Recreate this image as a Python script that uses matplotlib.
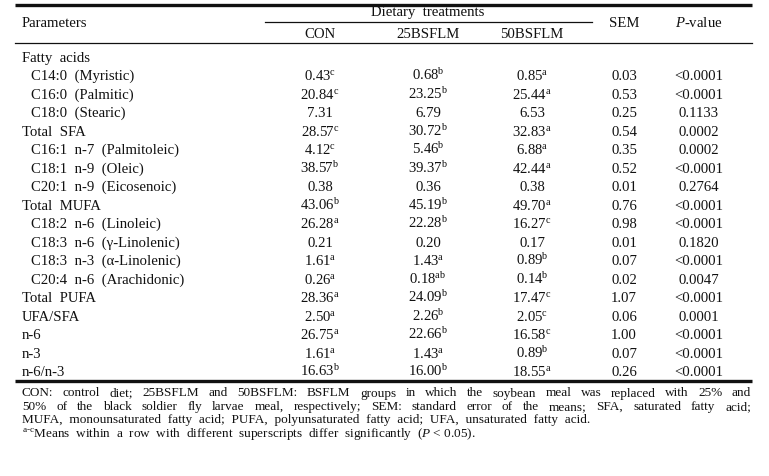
import matplotlib
matplotlib.use('Agg')
import matplotlib.pyplot as plt

# table data
params = ['Fatty acids', 'C14:0 (Myristic)', 'C16:0 (Palmitic)', 'C18:0 (Stearic)',
          'Total SFA', 'C16:1 n-7 (Palmitoleic)', 'C18:1 n-9 (Oleic)', 'C20:1 n-9 (Eicosenoic)',
          'Total MUFA', 'C18:2 n-6 (Linoleic)', 'C18:3 n-6 (γ-Linolenic)', 'C18:3 n-3 (α-Linolenic)',
          'C20:4 n-6 (Arachidonic)', 'Total PUFA', 'UFA/SFA', 'n-6', 'n-3', 'n-6/n-3']
indent = [0, 1, 1, 1, 0, 1, 1, 1, 0, 1, 1, 1, 1, 0, 0, 0, 0, 0]

con = ['', '0.43', '20.84', '7.31', '28.57', '4.12', '38.57', '0.38', '43.06', '26.28',
       '0.21', '1.61', '0.26', '28.36', '2.50', '26.75', '1.61', '16.63']
con_sup = ['', 'c', 'c', '', 'c', 'c', 'b', '', 'b', 'a', '', 'a', 'a', 'a', 'a', 'a', 'a', 'b']
b25 = ['', '0.68', '23.25', '6.79', '30.72', '5.46', '39.37', '0.36', '45.19', '22.28',
       '0.20', '1.43', '0.18', '24.09', '2.26', '22.66', '1.43', '16.00']
b25_sup = ['', 'b', 'b', '', 'b', 'b', 'b', '', 'b', 'b', '', 'a', 'ab', 'b', 'b', 'b', 'a', 'b']
b50 = ['', '0.85', '25.44', '6.53', '32.83', '6.88', '42.44', '0.38', '49.70', '16.27',
       '0.17', '0.89', '0.14', '17.47', '2.05', '16.58', '0.89', '18.55']
b50_sup = ['', 'a', 'a', '', 'a', 'a', 'a', '', 'a', 'c', '', 'b', 'b', 'c', 'c', 'c', 'b', 'a']
sem = ['', '0.03', '0.53', '0.25', '0.54', '0.35', '0.52', '0.01', '0.76', '0.98',
       '0.01', '0.07', '0.02', '1.07', '0.06', '1.00', '0.07', '0.26']
pval = ['', '<0.0001', '<0.0001', '0.1133', '0.0002', '0.0002', '<0.0001', '0.2764', '<0.0001',
        '<0.0001', '0.1820', '<0.0001', '0.0047', '<0.0001', '0.0001', '<0.0001', '<0.0001', '<0.0001']

notes = ['CON: control diet; 25BSFLM and 50BSFLM: BSFLM groups in which the soybean meal was replaced with 25% and',
         '50% of the black soldier fly larvae meal, respectively; SEM: standard error of the means; SFA, saturated fatty acid;',
         'MUFA, monounsaturated fatty acid; PUFA, polyunsaturated fatty acid; UFA, unsaturated fatty acid.']

plt.rcParams['font.family'] = ['Liberation Serif', 'DejaVu Serif']
plt.rcParams['mathtext.fontset'] = 'custom'
plt.rcParams['mathtext.rm'] = 'Liberation Serif'
plt.rcParams['mathtext.it'] = 'Liberation Serif:italic'

W, H = 769, 476
fig = plt.figure(figsize=(W / 100, H / 100), dpi=100)
ax = fig.add_axes([0, 0, 1, 1])
ax.set_xlim(0, W)
ax.set_ylim(H, 0)
ax.axis('off')

col = '#111111'
fs = 10.6
x_left, x_right = 15, 752
cols_x = [320, 428, 532, 624, 699]
bl = 4.7  # baseline offset from row centre

# rules
ax.plot([x_left, x_right], [5, 5], color=col, lw=2.4, solid_capstyle='butt')
ax.plot([265, 592], [22, 22], color=col, lw=0.9)
ax.plot([x_left, x_right], [43, 43], color=col, lw=0.9)
ax.plot([x_left, x_right], [381, 381], color=col, lw=2.4, solid_capstyle='butt')

# header
ax.text(428, 11.5 + bl, 'Dietary  treatments', ha='center', va='baseline', fontsize=fs, color=col)
ax.text(22, 22.5 + bl, 'Parameters', ha='left', va='baseline', fontsize=fs, color=col)
for x, h in zip(cols_x[:3], ['CON', '25BSFLM', '50BSFLM']):
    ax.text(x, 33 + bl, h, ha='center', va='baseline', fontsize=fs, color=col)
ax.text(cols_x[3], 22.5 + bl, 'SEM', ha='center', va='baseline', fontsize=fs, color=col)
ax.text(cols_x[4], 22.5 + bl, r'$\mathit{P}$-value', ha='center', va='baseline', fontsize=fs, color=col)


def cell(v, s):
    if s:
        return v + r'$^{\mathrm{' + s + '}}$'
    return v


y0, dy = 57, 18.5
for i, p in enumerate(params):
    y = y0 + i * dy
    ax.text(22 + 9 * indent[i], y + bl, p.replace(' ', '  '), ha='left', va='baseline',
            fontsize=fs, color=col)
    if not con[i]:
        continue
    vals = [cell(con[i], con_sup[i]), cell(b25[i], b25_sup[i]),
            cell(b50[i], b50_sup[i]), sem[i], pval[i]]
    for x, v in zip(cols_x, vals):
        ax.text(x, y + bl, v, ha='center', va='baseline', fontsize=fs, color=col)

# footnotes, first two lines justified
fn = 9.5
fb = 4.0
renderer = fig.canvas.get_renderer()
fy = [392.5, 406, 419.5, 433]
for k, line in enumerate(notes):
    words = line.split(' ')
    if k < 2:
        objs = [ax.text(0, fy[k] + fb, w, ha='left', va='baseline', fontsize=fn, color=col)
                for w in words]
        widths = [o.get_window_extent(renderer).width for o in objs]
        gap = (751 - 22 - sum(widths)) / (len(words) - 1)
        x = 22
        for o, w in zip(objs, widths):
            o.set_x(x)
            x += w + gap
    else:
        ax.text(22, fy[k] + fb, line.replace(' ', '  '), ha='left', va='baseline',
                fontsize=fn, color=col)
ax.text(22, fy[3] + fb, r'$^{\mathrm{a\text{-}c}}$'
        + 'Means  within  a  row  with  different  superscripts  differ  significantly  ('
        + r'$\mathit{P}$' + ' < 0.05).', ha='left', va='baseline', fontsize=fn, color=col)

fig.savefig('out.png', dpi=100)
